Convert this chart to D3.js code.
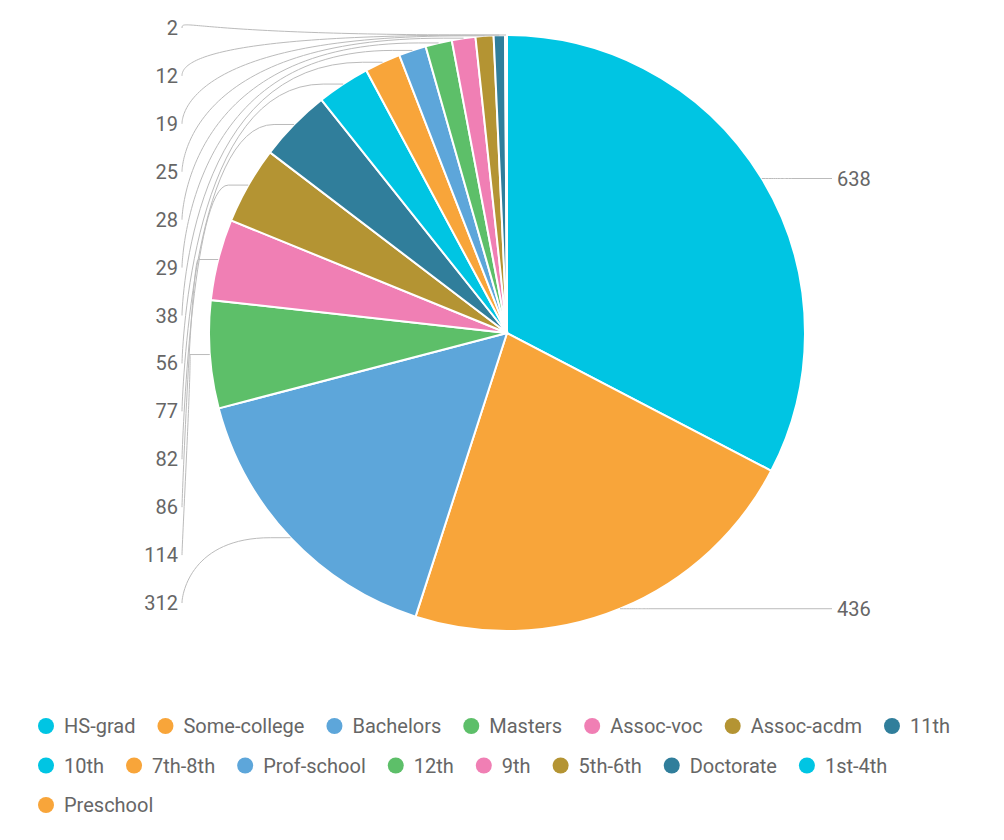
<!DOCTYPE html>
<html lang="en">
<head>
<meta charset="UTF-8">
<script src="https://d3js.org/d3.v7.min.js"></script>
<style>
  body { margin: 0; background: #fff; font-family: "Helvetica Neue", Roboto, "Liberation Sans", sans-serif; }
  text { font-family: "Helvetica Neue", Roboto, "Liberation Sans", sans-serif; }
</style>
</head>
<body>
<div id="chart"></div>
<script>
const categories = ["HS-grad", "Some-college", "Bachelors", "Masters", "Assoc-voc", "Assoc-acdm",
  "11th", "10th", "7th-8th", "Prof-school", "12th", "9th", "5th-6th", "Doctorate", "1st-4th", "Preschool"];
const values = [638, 436, 312, 114, 86, 82, 77, 56, 38, 29, 28, 25, 19, 12, 2, 0];
const palette = ["#00c5e3", "#f8a53a", "#5da6da", "#5dbf69", "#f07fb4", "#b49433", "#307e9b"];

const width = 1004, height = 840;
const cx = 507, cy = 333, r = 298;

const svg = d3.select("#chart").append("svg")
    .attr("width", width).attr("height", height);

const data = categories.map((c, i) => ({name: c, value: values[i], color: palette[i % palette.length]}));

const pie = d3.pie().sort(null).value(d => d.value);
const arcs = pie(data);
const arc = d3.arc().innerRadius(0).outerRadius(r);

const g = svg.append("g").attr("transform", `translate(${cx},${cy})`);
g.selectAll("path.slice")
  .data(arcs)
  .enter().append("path")
  .attr("class", "slice")
  .attr("d", arc)
  .attr("fill", d => d.data.color)
  .attr("stroke", "#fff")
  .attr("stroke-width", 2);

// labels
const labelled = arcs.filter(d => d.data.value > 0);
const right = labelled.filter(d => (d.startAngle + d.endAngle) / 2 < Math.PI);
const left = labelled.filter(d => (d.startAngle + d.endAngle) / 2 >= Math.PI);
const leftBottom = 603, leftTop = 28;
const step = (leftBottom - leftTop) / (left.length - 1);

function edge(d) {
  const a = (d.startAngle + d.endAngle) / 2;
  return [cx + r * Math.sin(a), cy - r * Math.cos(a)];
}

right.forEach(d => {
  const [px, py] = edge(d);
  const ly = py;
  svg.append("path")
    .attr("d", `M${px},${py} C${px + 20},${py} ${px + 20},${ly} ${px + 30},${ly} L832,${ly}`)
    .attr("fill", "none").attr("stroke", "#bbb").attr("stroke-width", 1);
  svg.append("text").attr("x", 837).attr("y", ly).attr("dy", "0.35em")
    .attr("font-size", 20).attr("fill", "#666").text(d.data.value);
});

left.forEach((d, i) => {
  const [px, py] = edge(d);
  const ly = leftBottom - i * step;
  const lx = 182;
  svg.append("path")
    .attr("d", `M${px},${py} L${px - 20},${py} C${lx + 10},${py} ${lx},${ly - 10} ${lx},${ly}`)
    .attr("fill", "none").attr("stroke", "#bbb").attr("stroke-width", 1);
  svg.append("text").attr("x", 178).attr("y", ly).attr("dy", "0.35em")
    .attr("text-anchor", "end").attr("font-size", 20).attr("fill", "#666").text(d.data.value);
});

// legend
const legend = svg.append("g");
let x = 38, y = 726;
const maxX = 975;
data.forEach(d => {
  const item = legend.append("g");
  item.append("circle").attr("cx", 8).attr("cy", 0).attr("r", 8).attr("fill", d.color);
  const t = item.append("text").attr("x", 26).attr("dy", "0.35em")
    .attr("font-size", 20).attr("fill", "#666").text(d.name);
  const w = 26 + t.node().getComputedTextLength();
  if (x + w > maxX) { x = 38; y += 39.5; }
  item.attr("transform", `translate(${x},${y})`);
  x += w + 22;
});
</script>
</body>
</html>
